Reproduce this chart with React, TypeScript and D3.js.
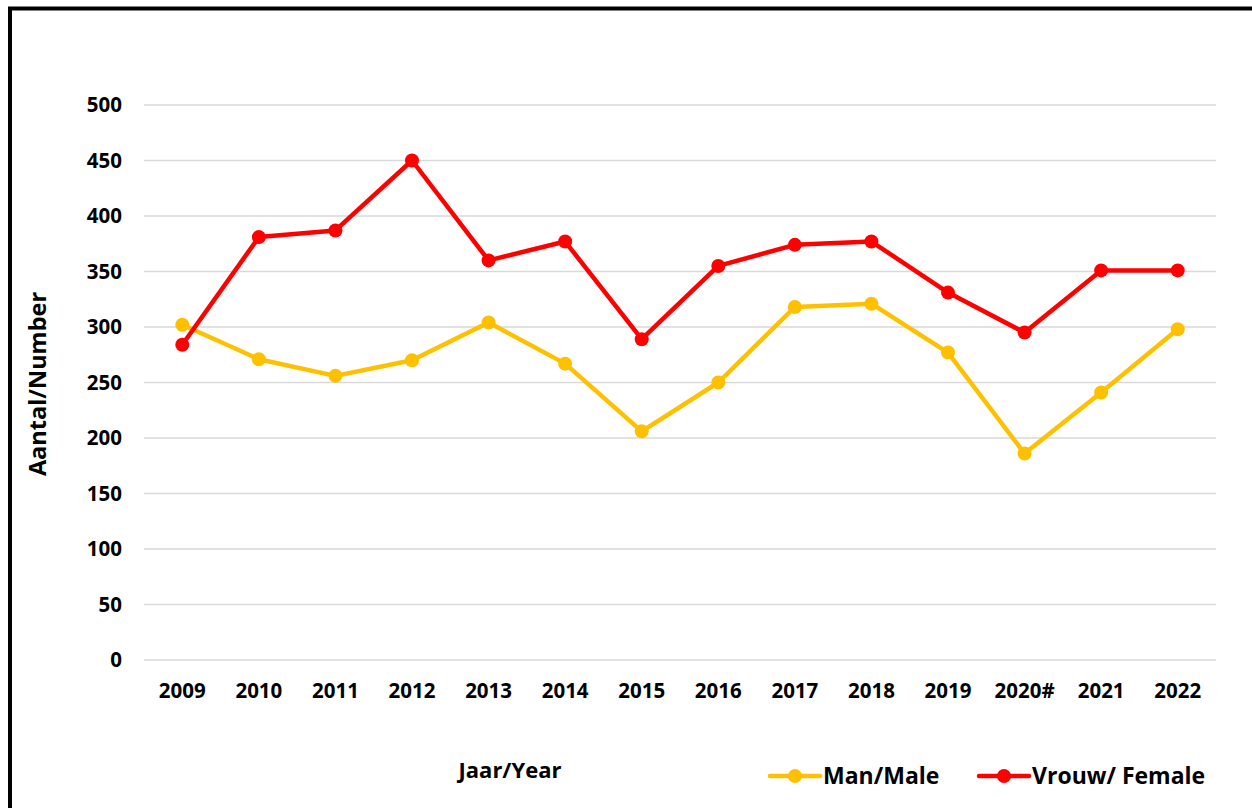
import React from "react";
import * as d3 from "d3";

const years = ["2009", "2010", "2011", "2012", "2013", "2014", "2015", "2016", "2017", "2018", "2019", "2020#", "2021", "2022"];
const male = [302, 271, 256, 270, 304, 267, 206, 250, 318, 321, 277, 186, 241, 298];
const female = [284, 381, 387, 450, 360, 377, 289, 355, 374, 377, 331, 295, 351, 351];
const yTicks = [0, 50, 100, 150, 200, 250, 300, 350, 400, 450, 500];

const W = 1252, H = 808;
const left = 144, right = 1216, top = 105, bottom = 660;
const font = "'Open Sans', 'Liberation Sans', sans-serif";

export default function App() {
  const x = d3.scaleBand<string>().domain(years).range([left, right]);
  const y = d3.scaleLinear().domain([0, 500]).range([bottom, top]);
  const cx = (d: string) => (x(d) as number) + x.bandwidth() / 2;
  const line = d3.line<number>().x((_, i) => cx(years[i])).y((v) => y(v));
  const series = [
    { name: "Man/Male", data: male, color: "#FFC000" },
    { name: "Vrouw/ Female", data: female, color: "#FF0000" },
  ];
  return (
    <svg width={W} height={H} style={{ position: "absolute", left: 0, top: 0, display: "block", background: "#fff" }}>
      <rect x={0} y={0} width={W} height={H} fill="#fff" />
      <path d={`M10,${H} L10,8.5 L${W},8.5`} fill="none" stroke="#000" strokeWidth={4} />
      {yTicks.map((t) => (
        <g key={t}>
          <line x1={left} x2={right} y1={y(t)} y2={y(t)} stroke="#d9d9d9" strokeWidth={1.5} />
          <text x={122} y={y(t)} dy="0.36em" textAnchor="end" fontFamily={font} fontWeight="bold" fontSize={20.5} fill="#000">{t}</text>
        </g>
      ))}
      {years.map((yr) => (
        <text key={yr} x={cx(yr)} y={691} dy="0.36em" textAnchor="middle" fontFamily={font} fontWeight="bold" fontSize={20.5} fill="#000">{yr}</text>
      ))}
      <text transform={`translate(38,384) rotate(-90)`} dy="0.36em" textAnchor="middle" fontFamily={font} fontWeight="bold" fontSize={23.5} fill="#000">Aantal/Number</text>
      <text x={510} y={770} dy="0.36em" textAnchor="middle" fontFamily={font} fontWeight="bold" fontSize={22} fill="#000">Jaar/Year</text>
      {series.map((s) => (
        <g key={s.name}>
          <path d={line(s.data) as string} fill="none" stroke={s.color} strokeWidth={4.5} strokeLinejoin="round" strokeLinecap="round" />
          {s.data.map((v, i) => (
            <circle key={i} cx={cx(years[i])} cy={y(v)} r={7} fill={s.color} />
          ))}
        </g>
      ))}
      {series.map((s, i) => {
        const lx = i === 0 ? 770 : 979;
        return (
          <g key={s.name}>
            <line x1={lx} x2={lx + 50} y1={776} y2={776} stroke={s.color} strokeWidth={4.5} strokeLinecap="round" />
            <circle cx={lx + 25} cy={776} r={7} fill={s.color} />
            <text x={lx + 53} y={776} dy="0.36em" fontFamily={font} fontWeight="bold" fontSize={23} fill="#000">{s.name}</text>
          </g>
        );
      })}
    </svg>
  );
}
